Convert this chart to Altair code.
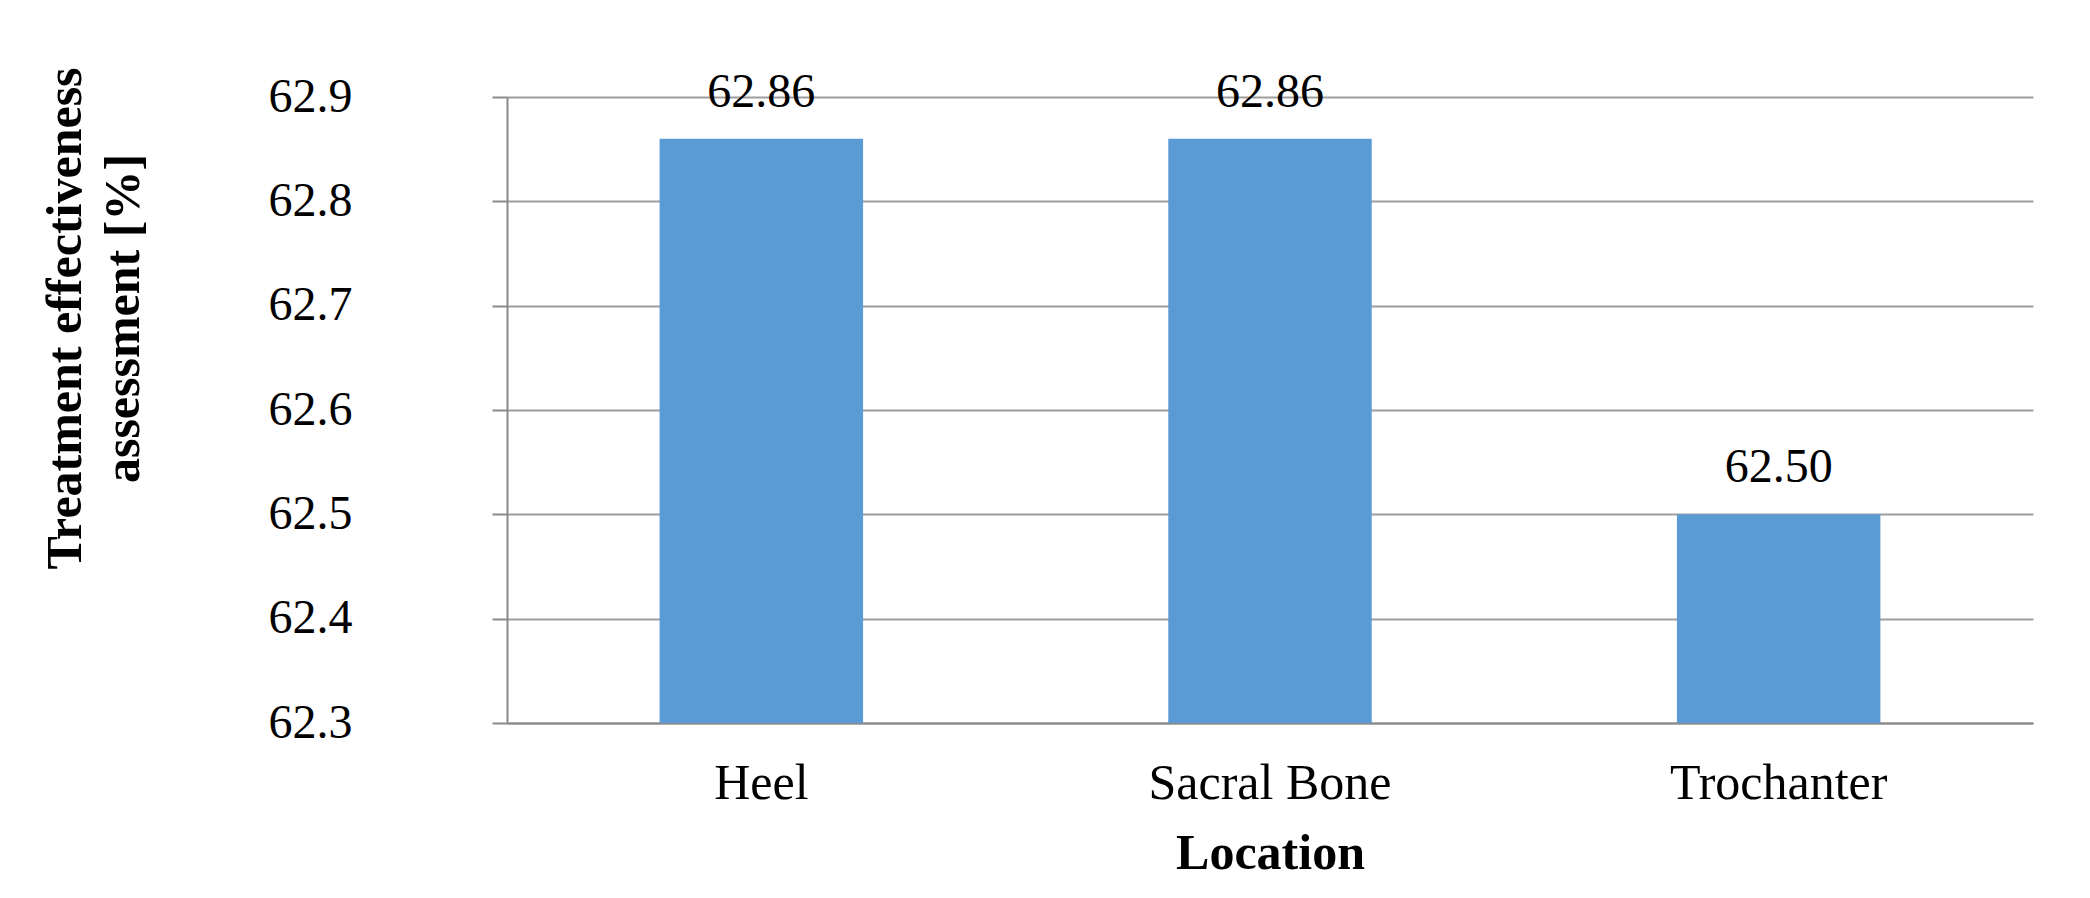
import altair as alt
import pandas as pd

locations = ["Heel", "Sacral Bone", "Trochanter"]
values = [62.86, 62.86, 62.50]
y_ticks = [62.3, 62.4, 62.5, 62.6, 62.7, 62.8, 62.9]

df = pd.DataFrame({"Location": locations, "Value": values})

FONT = "Liberation Serif"
AXIS_GRAY = "#8a8a8a"
GRID_GRAY = "#9d9d9d"

x_enc = alt.X(
    "Location:N",
    sort=locations,
    scale=alt.Scale(paddingInner=0.6, paddingOuter=0.3),
    axis=alt.Axis(
        title="Location",
        titleFont=FONT,
        titleFontSize=50,
        titleFontWeight="bold",
        titleColor="black",
        titleY=145,
        titleBaseline="alphabetic",
        labelFont=FONT,
        labelFontSize=50,
        labelColor="black",
        labelAngle=0,
        labelPadding=75,
        labelBaseline="alphabetic",
        labelLimit=1000,
        ticks=False,
        tickSize=0,
        domainColor=AXIS_GRAY,
        domainWidth=2,
        grid=False,
    ),
)

y_scale = alt.Scale(domain=[62.3, 62.9], zero=False, nice=False)

y_enc = alt.Y(
    "Value:Q",
    scale=y_scale,
    axis=alt.Axis(
        title=["Treatment effectiveness", "assessment [%]"],
        titleFont=FONT,
        titleFontSize=50,
        titleFontWeight="bold",
        titleColor="black",
        titleAngle=270,
        titleAlign="center",
        titleBaseline="alphabetic",
        titleLineHeight=58,
        titleX=-427,
        titleY=221,
        titleLimit=2000,
        values=y_ticks,
        format=".1f",
        labelFont=FONT,
        labelFontSize=48,
        labelColor="black",
        labelPadding=140,
        labelBaseline="middle",
        tickSize=15,
        tickWidth=2,
        tickColor=AXIS_GRAY,
        domainColor=AXIS_GRAY,
        domainWidth=2,
        grid=True,
        gridColor=GRID_GRAY,
        gridWidth=2,
    ),
)

bars = alt.Chart(df).mark_bar(color="#5B9BD5", clip=True).encode(x=x_enc, y=y_enc)

labels = alt.Chart(df).mark_text(
    font=FONT, fontSize=48, color="black", baseline="alphabetic", dy=-32
).encode(
    x=alt.X("Location:N", sort=locations),
    y=alt.Y("Value:Q", scale=y_scale),
    text=alt.Text("Value:Q", format=".2f"),
)

chart = (
    alt.layer(bars, labels)
    .properties(
        width=1526,
        height=626,
        background="white",
        autosize=alt.AutoSizeParams(type="none"),
        padding={"left": 499, "top": 89, "right": 40, "bottom": 160},
    )
    .configure_view(strokeWidth=0, stroke="transparent")
)

chart.save("out.html", embed_options={"renderer": "svg", "actions": False})
